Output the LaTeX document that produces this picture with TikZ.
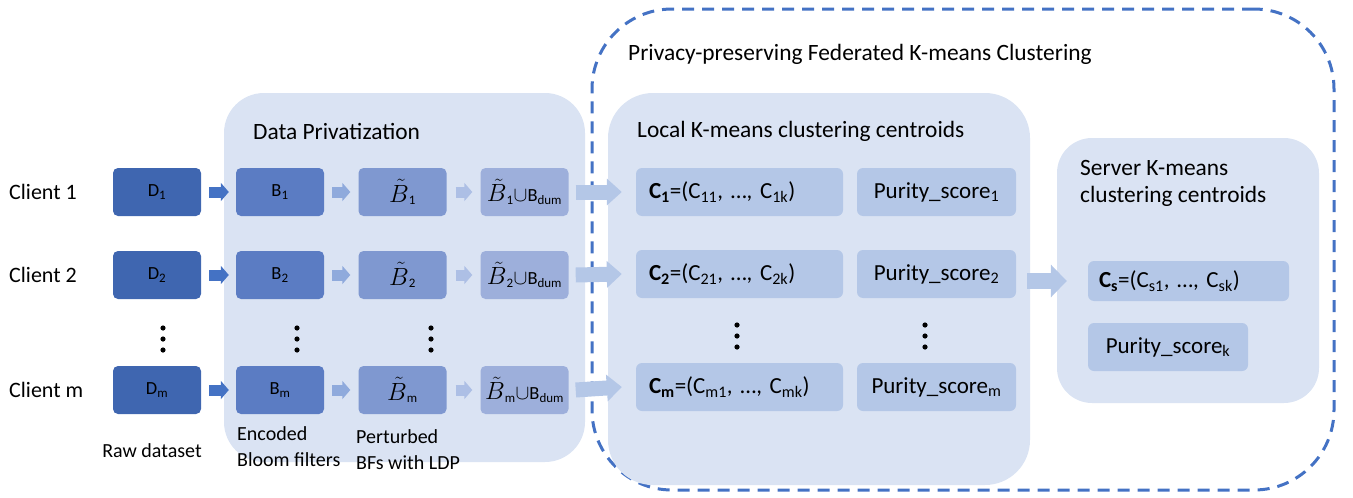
\documentclass[tikz,border=0pt]{standalone}
\usepackage{fontspec}
\setmainfont{Carlito}
\usetikzlibrary{arrows.meta}

\definecolor{panelbg}{HTML}{DAE3F3}
\definecolor{dcol}{HTML}{3F66B0}
\definecolor{bcol}{HTML}{5B7CC3}
\definecolor{btcol}{HTML}{7F98D0}
\definecolor{bucol}{HTML}{9DAFDB}
\definecolor{ccol}{HTML}{B4C7E7}
\definecolor{dashcol}{HTML}{4472C4}
\definecolor{arrowA}{HTML}{4472C4}
\definecolor{arrowB}{HTML}{8FAADC}
\definecolor{arrowC}{HTML}{ADBFE5}
\definecolor{arrowD}{HTML}{B4C7E7}

\newcommand{\dn}[1]{\textsubscript{#1}}
% perturbed filter symbol, set a little larger than the box text
\newcommand{\Bt}{{\fontsize{23}{27}\selectfont$\tilde{B}$}}
\newcommand{\union}{{\fontsize{22}{26}\selectfont$\cup$}}

\tikzset{
  panel/.style={fill=panelbg, draw=none, rounded corners=40pt, inner sep=0pt},
  smallbox/.style={draw=none, rounded corners=5pt, minimum width=88pt, minimum height=48pt,
    inner sep=0pt, font=\fontsize{18.5}{22}\selectfont, text=black},
  cbox/.style={fill=ccol, draw=none, rounded corners=6pt, minimum height=48pt, inner sep=0pt,
    font=\fontsize{23}{27}\selectfont, text=black},
  ptitle/.style={anchor=west, inner sep=0pt, font=\fontsize{23.4}{27}\selectfont},
  clientlbl/.style={anchor=west, inner sep=0pt, font=\fontsize{22}{26}\selectfont},
  caption/.style={anchor=north west, inner sep=0pt, align=left, font=\fontsize{20}{26}\selectfont},
  blockarrow/.style n args={4}{draw=#1, line width=#2, -{Triangle[width=#3, length=#4]}},
  dot/.style={fill=black},
}

\begin{document}
\begin{tikzpicture}[x=1pt, y=-1pt]
\useasboundingbox (0,0) rectangle (1353,498);

% outer dashed frame of the federated part
\node[draw=dashcol, line width=3pt, dash pattern=on 12pt off 8pt, rounded corners=80pt,
      minimum width=742pt, minimum height=481pt, inner sep=0pt] (fed) at (963,249.5) {};

% panels
\node[panel, minimum width=361pt, minimum height=369pt] (priv) at (404.5,277.5) {};
\node[panel, rounded corners=45pt, minimum width=422pt, minimum height=392pt] (local) at (819,289) {};
\node[panel, rounded corners=35pt, minimum width=262pt, minimum height=265pt] (server) at (1188,270.5) {};

% titles
\node[ptitle] (fedtitle) at (628,54) {Privacy-preserving Federated K-means Clustering};
\node[ptitle] (privtitle) at (253,131) {Data Privatization};
\node[ptitle] (localtitle) at (637,131) {Local K-means clustering centroids};
\node[ptitle, align=left, anchor=north west] (servertitle) at (1080,160) {Server K-means\\clustering centroids};

% client labels
\node[clientlbl] (cl1) at (9,192) {Client 1};
\node[clientlbl] (cl2) at (9,275) {Client 2};
\node[clientlbl] (clm) at (9,390) {Client m};

% raw data
\node[smallbox, fill=dcol] (D1) at (157,192) {D\dn{1}};
\node[smallbox, fill=dcol] (D2) at (157,275) {D\dn{2}};
\node[smallbox, fill=dcol] (Dm) at (157,390) {D\dn{m}};
% bloom filters
\node[smallbox, fill=bcol] (B1) at (280,192) {B\dn{1}};
\node[smallbox, fill=bcol] (B2) at (280,275) {B\dn{2}};
\node[smallbox, fill=bcol] (Bm) at (280,390) {B\dn{m}};
% perturbed bloom filters
\node[smallbox, fill=btcol] (T1) at (402.5,192) {\Bt\dn{1}};
\node[smallbox, fill=btcol] (T2) at (402.5,275) {\Bt\dn{2}};
\node[smallbox, fill=btcol] (Tm) at (402.5,390) {\Bt\dn{m}};
% with dummy filters
\node[smallbox, fill=bucol] (U1) at (524.5,192) {\Bt\dn{1}\union B\dn{dum}};
\node[smallbox, fill=bucol] (U2) at (524.5,275) {\Bt\dn{2}\union B\dn{dum}};
\node[smallbox, fill=bucol] (Um) at (524.5,390) {\Bt\dn{m}\union B\dn{dum}};

% local centroids
\node[cbox, minimum width=207pt, text width=181pt, align=left] (C1) at (739.5,192)
  {\textbf{C\dn{1}}=(C\dn{11}, …, C\dn{1k})};
\node[cbox, minimum width=207pt, text width=181pt, align=left] (C2) at (739.5,274)
  {\textbf{C\dn{2}}=(C\dn{21}, …, C\dn{2k})};
\node[cbox, minimum width=207pt, text width=181pt, align=left] (Cm) at (739.5,387)
  {\textbf{C\dn{m}}=(C\dn{m1}, …, C\dn{mk})};
\node[cbox, minimum width=159pt] (P1) at (936.5,192) {Purity\_score\dn{1}};
\node[cbox, minimum width=159pt] (P2) at (936.5,274) {Purity\_score\dn{2}};
\node[cbox, minimum width=159pt] (Pm) at (936.5,387) {Purity\_score\dn{m}};

% server centroids
\node[cbox, minimum width=201pt, minimum height=40pt, text width=179pt, align=left] (Cs) at (1188.5,281)
  {\textbf{C\dn{s}}=(C\dn{s1}, …, C\dn{sk})};
\node[cbox, minimum width=160pt] (Pk) at (1168,347) {Purity\_score\dn{k}};

% vertical ellipses
\foreach \x in {163,297,431} {
  \foreach \y in {328,339,350} { \fill[dot] (\x,\y) circle (2.6pt); }
}
\foreach \x in {737,925} {
  \foreach \y in {325,336,347} { \fill[dot] (\x,\y) circle (2.6pt); }
}

% captions
\node[caption, anchor=north] (capraw) at (152,443) {Raw dataset};
\node[caption] (capenc) at (237,426) {Encoded\\Bloom filters};
\node[caption] (cappert) at (356,429) {Perturbed\\BFs with LDP};

% flow arrows
\foreach \r in {1,2,m} {
  \draw[blockarrow={arrowA}{11pt}{18pt}{8pt}] ([xshift=8pt]D\r.east) -- ([xshift=-7pt]B\r.west);
  \draw[blockarrow={arrowB}{11pt}{18pt}{8pt}] ([xshift=8pt]B\r.east) -- ([xshift=-8pt]T\r.west);
  \draw[blockarrow={arrowC}{11pt}{18pt}{8pt}] ([xshift=9pt]T\r.east) -- ([xshift=-8pt]U\r.west);
  \draw[blockarrow={arrowD}{15pt}{26pt}{15pt}] ([xshift=7pt]U\r.east) -- ([xshift=-14pt]C\r.west);
}
\draw[blockarrow={arrowD}{16pt}{32pt}{16pt}] ([xshift=11pt]P2.east |- Cs.west) -- ([xshift=-21pt]Cs.west);

\end{tikzpicture}
\end{document}
